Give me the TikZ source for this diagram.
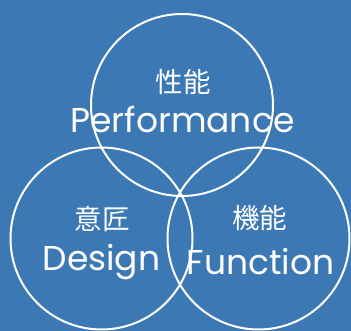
\documentclass[tikz,border=0pt]{standalone}
\usepackage{fontspec}
\setmainfont{Poppins}
\newfontfamily\cjk{Noto Sans CJK JP}
\definecolor{lanse}{RGB}{59,120,180}

\begin{document}
\begin{tikzpicture}[x=1pt, y=1pt,
		quan/.style={circle, draw=white, line width=2pt, minimum size=182pt, inner sep=0pt},
		hanzi/.style={anchor=base, text=white, inner sep=0pt, font=\cjk\fontsize{27.5}{27.5}\selectfont},
		yingwen/.style={anchor=base, text=white, inner sep=0pt, font=\fontsize{34.5}{34.5}\selectfont}]
			\fill[lanse] (0,0) rectangle (351,331);
			\useasboundingbox (0,0) rectangle (351,331);
			\node[quan] (xingneng) at (182,226) {};
			\node[quan] (yijiang) at (101.5,92.5) {};
			\node[quan] (jineng) at (258.5,92.5) {};
			\node[hanzi] (xingnengzi) at (183,238) {性能};
			\node[yingwen] (performance) at (182.5,198) {Performance};
			\node[hanzi] (yijiangzi) at (102,101) {意匠};
			\node[yingwen] (design) at (101.5,60) {Design};
			\node[hanzi] (jinengzi) at (259.5,102) {機能};
			\node[yingwen] (function) at (260.5,56) {Function};
		\end{tikzpicture}
\end{document}
